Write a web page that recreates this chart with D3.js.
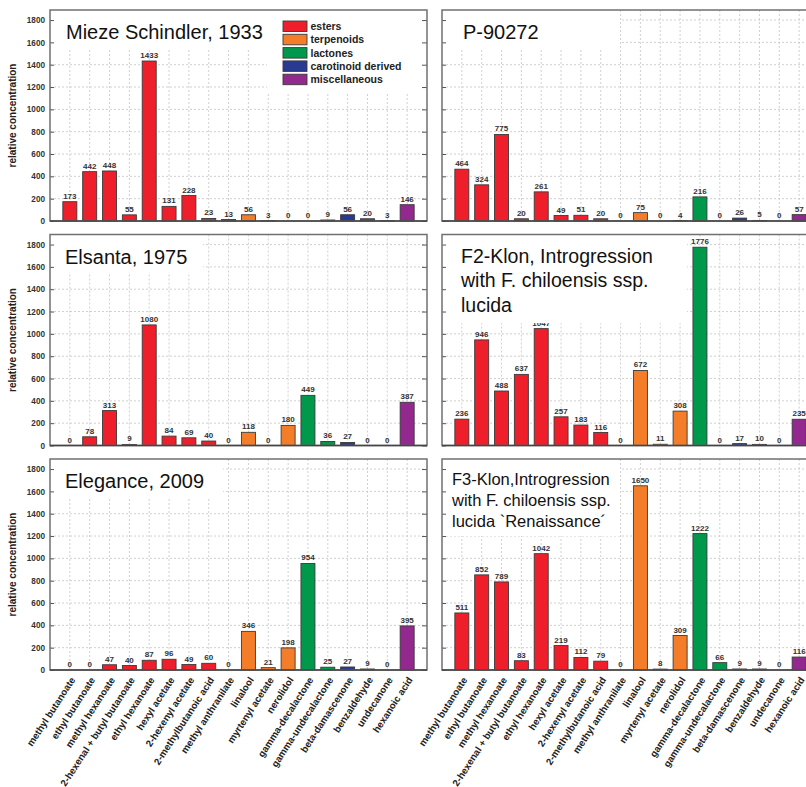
<!DOCTYPE html>
<html>
<head>
<meta charset="utf-8">
<script src="https://cdn.jsdelivr.net/npm/d3@7"></script>
<style>
  html, body { margin: 0; padding: 0; background: #fff; }
  svg { display: block; font-family: "Liberation Sans", Arial, sans-serif; }
</style>
</head>
<body>
<svg id="chart" width="806" height="787"></svg>
<script>
// ---------------- data ----------------
const categories = [
  "methyl butanoate", "ethyl butanoate", "methyl hexanoate", "2-hexenal + butyl butanoate",
  "ethyl hexanoate", "hexyl acetate", "2-hexenyl acetate", "2-methylbutanoic acid",
  "methyl anthranilate", "linalool", "myrtenyl acetate", "nerolidol",
  "gamma-decalactone", "gamma-undecalactone", "beta-damascenone", "benzaldehyde",
  "undecanone", "hexanoic acid"
];
const categoryGroup = [
  "esters", "esters", "esters", "esters", "esters", "esters", "esters", "esters", "esters",
  "terpenoids", "terpenoids", "terpenoids",
  "lactones", "lactones",
  "carotinoid derived",
  "miscellaneous", "miscellaneous", "miscellaneous"
];
const groups = ["esters", "terpenoids", "lactones", "carotinoid derived", "miscellaneous"];
const groupColors = ["#ee1f2b", "#f47d2a", "#00984a", "#2a3a92", "#93298e"];

const miezeSchindler1933 = [173, 442, 448, 55, 1433, 131, 228, 23, 13, 56, 3, 0, 0, 9, 56, 20, 3, 146];
const p90272            = [464, 324, 775, 20, 261, 49, 51, 20, 0, 75, 0, 4, 216, 0, 26, 5, 0, 57];
const elsanta1975       = [0, 78, 313, 9, 1080, 84, 69, 40, 0, 118, 0, 180, 449, 36, 27, 0, 0, 387];
const f2Klon            = [236, 946, 488, 637, 1047, 257, 183, 116, 0, 672, 11, 308, 1776, 0, 17, 10, 0, 235];
const elegance2009      = [0, 0, 47, 40, 87, 96, 49, 60, 0, 346, 21, 198, 954, 25, 27, 9, 0, 395];
const f3Klon            = [511, 852, 789, 83, 1042, 219, 112, 79, 0, 1650, 8, 309, 1222, 66, 9, 9, 0, 116];

const yTicks = [0, 200, 400, 600, 800, 1000, 1200, 1400, 1600, 1800];
const yAxisTitle = "relative concentration";

const titleMieze = ["Mieze Schindler, 1933"];
const titleP = ["P-90272"];
const titleElsanta = ["Elsanta, 1975"];
const titleF2 = ["F2-Klon, Introgression", "with F. chiloensis ssp.", "lucida"];
const titleElegance = ["Elegance, 2009"];
const titleF3 = ["F3-Klon,Introgression", "with F. chiloensis ssp.", "lucida `Renaissance´"];

// ---------------- layout ----------------
const colX = [50, 442];
const rowY = [10, 234.5, 459];
const frameW = 377, frameH = 211;

const panels = [
  { values: miezeSchindler1933, title: titleMieze, col: 0, row: 0, fs: 20, lh: 24, tx: 16, ty: 29, box: [0, 0, 217, 38], legend: true },
  { values: p90272, title: titleP, col: 1, row: 0, fs: 20, lh: 24, tx: 21, ty: 29, box: [0, 0, 178, 38] },
  { values: elsanta1975, title: titleElsanta, col: 0, row: 1, fs: 20, lh: 24, tx: 15, ty: 29, box: [0, 0, 153, 38] },
  { values: f2Klon, title: titleF2, col: 1, row: 1, fs: 19.5, lh: 24.3, tx: 19, ty: 28.5, box: [0, 0, 245, 88.6] },
  { values: elegance2009, title: titleElegance, col: 0, row: 2, fs: 20, lh: 24, tx: 15, ty: 29, box: [0, 0, 173, 39] },
  { values: f3Klon, title: titleF3, col: 1, row: 2, fs: 16.5, lh: 20.8, tx: 10, ty: 26, box: [0, 0, 178, 77] }
];

const x = d3.scalePoint().domain(categories).range([0, frameW]).padding(1);
const y = d3.scaleLinear().domain([0, 1890]).range([frameH, 0]);
const color = d3.scaleOrdinal().domain(groups).range(groupColors);
const barW = 14;

const svg = d3.select("#chart");
svg.append("rect").attr("width", 806).attr("height", 787).attr("fill", "#fff");

panels.forEach(p => {
  const g = svg.append("g").attr("transform", `translate(${colX[p.col]},${rowY[p.row]})`);

  // grid
  g.append("g").selectAll("line.h").data(yTicks.filter(t => t > 0)).join("line")
    .attr("x1", 0).attr("x2", frameW)
    .attr("y1", d => y(d)).attr("y2", d => y(d))
    .attr("stroke", "#c4c4c4").attr("stroke-width", 0.8).attr("stroke-dasharray", "2,2");
  g.append("g").selectAll("line.v").data(categories).join("line")
    .attr("x1", d => x(d)).attr("x2", d => x(d))
    .attr("y1", 0).attr("y2", frameH)
    .attr("stroke", "#c4c4c4").attr("stroke-width", 0.8).attr("stroke-dasharray", "2,2");

  // bars
  const data = categories.map((c, i) => ({ c, v: p.values[i], grp: categoryGroup[i] }));
  g.append("g").selectAll("rect").data(data).join("rect")
    .attr("x", d => x(d.c) - barW / 2)
    .attr("width", barW)
    .attr("y", d => y(d.v))
    .attr("height", d => frameH - y(d.v))
    .attr("fill", d => color(d.grp))
    .attr("stroke", "#3a3a3a").attr("stroke-width", 0.9);

  // value labels
  g.append("g").selectAll("text").data(data).join("text")
    .attr("x", d => x(d.c))
    .attr("y", d => y(d.v) - 3)
    .attr("text-anchor", "middle")
    .attr("font-size", 8).attr("font-weight", "bold").attr("fill", "#333")
    .text(d => d.v);

  // white boxes
  g.append("rect").attr("x", p.box[0]).attr("y", p.box[1]).attr("width", p.box[2]).attr("height", p.box[3]).attr("fill", "#fff");
  if (p.legend) {
    g.append("rect").attr("x", 217).attr("y", 0).attr("width", frameW - 217).attr("height", 83).attr("fill", "#fff");
    const lg = g.append("g").attr("transform", "translate(233,11)");
    const items = lg.selectAll("g").data(groups).join("g")
      .attr("transform", (d, i) => `translate(0,${i * 13.3})`);
    items.append("rect").attr("width", 24).attr("height", 10.5)
      .attr("fill", d => color(d)).attr("stroke", "#3a3a3a").attr("stroke-width", 0.9);
    items.append("text").attr("x", 27.5).attr("y", 9)
      .attr("font-size", 10.5).attr("font-weight", "bold").attr("fill", "#222")
      .text(d => d);
  }

  // axis (ticks inward)
  const yAxis = d3.axisLeft(y).tickValues(yTicks).tickSize(-4).tickPadding(5).tickFormat(d3.format("d"));
  if (p.col === 1) yAxis.tickFormat("");
  const ax = g.append("g").call(yAxis);
  ax.select(".domain").remove();
  ax.selectAll("line").attr("stroke", "#555");
  ax.selectAll("text").attr("font-size", 8.2).attr("font-weight", "bold").attr("fill", "#333")
    .attr("font-family", "Liberation Sans, Arial, sans-serif");
  const yAxisR = d3.axisRight(y).tickValues(yTicks).tickSize(-5).tickFormat("");
  const axr = g.append("g").attr("transform", `translate(${frameW},0)`).call(yAxisR);
  axr.select(".domain").remove();
  axr.selectAll("line").attr("stroke", "#555");

  // frame
  g.append("rect").attr("x", 0).attr("y", 0).attr("width", frameW).attr("height", frameH)
    .attr("fill", "none").attr("stroke", "#707070").attr("stroke-width", 1.5);
  g.append("line").attr("x1", 0).attr("x2", frameW).attr("y1", frameH).attr("y2", frameH)
    .attr("stroke", "#444").attr("stroke-width", 1.6);

  // title
  const t = g.append("text").attr("x", p.tx).attr("y", p.ty)
    .attr("font-size", p.fs).attr("fill", "#111");
  p.title.forEach((line, i) => {
    t.append("tspan").attr("x", p.tx).attr("y", p.ty + i * p.lh).text(line);
  });

  // y axis title
  if (p.col === 0) {
    g.append("text")
      .attr("transform", `translate(-34,${frameH / 2}) rotate(-90)`)
      .attr("text-anchor", "middle")
      .attr("font-size", 10).attr("font-weight", "bold").attr("fill", "#222")
      .text(yAxisTitle);
  }

  // x labels on bottom row
  if (p.row === 2) {
    g.append("g").selectAll("text").data(categories).join("text")
      .attr("transform", d => `translate(${x(d) + 3},${frameH + 8}) rotate(-57)`)
      .attr("text-anchor", "end")
      .attr("dy", "0.35em")
      .attr("font-size", 9.7).attr("font-weight", "bold").attr("fill", "#222")
      .text(d => d);
  }
});
</script>
</body>
</html>
